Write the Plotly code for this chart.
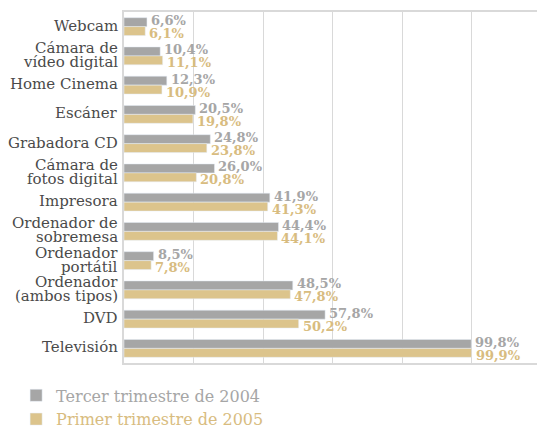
import plotly.graph_objects as go

categories = [
    "Webcam",
    "Cámara de<br>vídeo digital",
    "Home Cinema",
    "Escáner",
    "Grabadora CD",
    "Cámara de<br>fotos digital",
    "Impresora",
    "Ordenador de<br>sobremesa",
    "Ordenador<br>portátil",
    "Ordenador<br>(ambos tipos)",
    "DVD",
    "Televisión",
]
serie_2004 = [6.6, 10.4, 12.3, 20.5, 24.8, 26.0, 41.9, 44.4, 8.5, 48.5, 57.8, 99.8]
serie_2005 = [6.1, 11.1, 10.9, 19.8, 23.8, 20.8, 41.3, 44.1, 7.8, 47.8, 50.2, 99.9]
nombre_2004 = "Tercer trimestre de 2004"
nombre_2005 = "Primer trimestre de 2005"

GRIS = "#a6a6a6"
ORO = "#dcc48c"
ORO_TXT = "#d8bc80"
FUENTE = "DejaVu Serif"

ids = list(range(len(categories)))


def etiqueta(v):
    return f"<b>{v:.1f}%</b>".replace(".", ",")


fig = go.Figure()
fig.add_trace(go.Bar(
    y=ids, x=serie_2004, orientation="h", marker_color=GRIS,
    name=f'<span style="color:{GRIS}">{nombre_2004}</span>',
))
fig.add_trace(go.Bar(
    y=ids, x=serie_2005, orientation="h", marker_color=ORO,
    name=f'<span style="color:{ORO_TXT}">{nombre_2005}</span>',
))

anotaciones = []

# value labels beside each bar end, nudged apart vertically
for serie, color, dy in ((serie_2004, GRIS, 6), (serie_2005, ORO_TXT, -7)):
    for i, v in enumerate(serie):
        anotaciones.append(dict(
            x=v, xref="x", xanchor="left", xshift=2,
            y=i, yref="y", yanchor="middle", yshift=dy,
            text=etiqueta(v), showarrow=False,
            font=dict(family=FUENTE, size=13, color=color),
        ))

# category labels, one annotation per text line for tight line spacing
for i, cat in enumerate(categories):
    lineas = cat.split("<br>")
    n = len(lineas)
    for j, linea in enumerate(lineas):
        desplaz = (n - 1) * 7 - j * 14 + 1
        anotaciones.append(dict(
            x=0, xref="paper", xanchor="right", xshift=-4,
            y=i, yref="y", yanchor="middle", yshift=desplaz,
            text=linea, showarrow=False,
            font=dict(family=FUENTE, size=15, color="#4a4a4a"),
        ))

fig.update_layout(
    width=537, height=430,
    margin=dict(l=124, r=0, t=12, b=67, autoexpand=False),
    paper_bgcolor="white", plot_bgcolor="white",
    barmode="group", bargap=0.39, bargroupgap=0,
    showlegend=True,
    legend=dict(
        x=0.03, xref="container", y=0.12, yref="container",
        xanchor="left", yanchor="top",
        font=dict(family=FUENTE, size=16),
        traceorder="normal", itemclick=False,
    ),
    annotations=anotaciones,
)
fig.update_xaxes(
    range=[0, 118.7], dtick=20, showgrid=True, gridcolor="#d9d9d9", gridwidth=1,
    showticklabels=False, zeroline=False,
    showline=True, linecolor="#d9d9d9", linewidth=2, mirror=True,
)
fig.update_yaxes(
    range=[len(categories) - 0.5, -0.5], showticklabels=False, showgrid=False,
    zeroline=False, showline=True, linecolor="#d9d9d9", linewidth=2, mirror=False,
)

fig.write_html("out.html")
